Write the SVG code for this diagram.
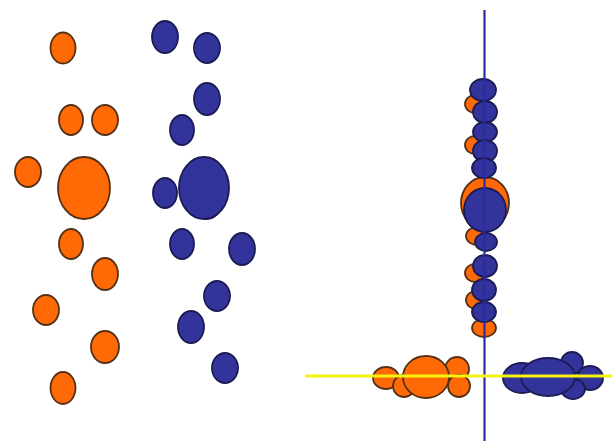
<svg xmlns="http://www.w3.org/2000/svg" width="612" height="441" viewBox="0 0 612 441">
<style>
.o{fill:#ff6a06;stroke:#553015;stroke-width:1.8}
.b{fill:#33339c;stroke:#1c1c55;stroke-width:1.8}
.vl{stroke:#2b2ba8;stroke-width:2.2}
.hl{stroke:#f4f40e;stroke-width:3}
</style>
<rect width="612" height="441" fill="#ffffff"/>
<g id="orange-cloud">
<ellipse class="o" cx="63" cy="48" rx="12.5" ry="15.5"/>
<ellipse class="o" cx="71" cy="120" rx="12" ry="15"/>
<ellipse class="o" cx="105" cy="120" rx="13" ry="15"/>
<ellipse class="o" cx="28" cy="172" rx="13" ry="15"/>
<ellipse class="o" cx="84" cy="188" rx="26" ry="31"/>
<ellipse class="o" cx="71" cy="244" rx="12" ry="15"/>
<ellipse class="o" cx="105" cy="274" rx="13" ry="16"/>
<ellipse class="o" cx="46" cy="310" rx="13" ry="15"/>
<ellipse class="o" cx="105" cy="347" rx="14" ry="16"/>
<ellipse class="o" cx="63" cy="388" rx="12.5" ry="16"/>
</g>
<g id="blue-cloud">
<ellipse class="b" cx="165" cy="37" rx="13" ry="16"/>
<ellipse class="b" cx="207" cy="48" rx="13" ry="15"/>
<ellipse class="b" cx="207" cy="99" rx="13" ry="16"/>
<ellipse class="b" cx="182" cy="130" rx="12" ry="15"/>
<ellipse class="b" cx="207" cy="205" rx="13" ry="14"/>
<ellipse class="b" cx="165" cy="193" rx="12" ry="15"/>
<ellipse class="b" cx="204" cy="188" rx="25" ry="31"/>
<ellipse class="b" cx="182" cy="244" rx="12" ry="15"/>
<ellipse class="b" cx="242" cy="249" rx="13" ry="16"/>
<ellipse class="b" cx="217" cy="296" rx="13" ry="15"/>
<ellipse class="b" cx="191" cy="327" rx="13" ry="16"/>
<ellipse class="b" cx="225" cy="368" rx="13" ry="15"/>
</g>
<g id="vertical-projection">
<ellipse class="o" cx="484" cy="328" rx="12" ry="9"/>
<ellipse class="o" cx="475" cy="104" rx="10" ry="9"/>
<ellipse class="o" cx="475" cy="145" rx="10" ry="9"/>
<ellipse class="o" cx="477" cy="236" rx="11" ry="9"/>
<ellipse class="o" cx="475" cy="273" rx="10" ry="9"/>
<ellipse class="o" cx="476" cy="300" rx="10" ry="9"/>
<ellipse class="o" cx="485" cy="203" rx="24" ry="26"/>
<ellipse class="b" cx="483" cy="90" rx="13" ry="11"/>
<ellipse class="b" cx="485" cy="112" rx="12" ry="11"/>
<ellipse class="b" cx="485" cy="132" rx="12" ry="10"/>
<ellipse class="b" cx="485" cy="151" rx="12" ry="11"/>
<ellipse class="b" cx="484" cy="168" rx="12" ry="10"/>
<ellipse class="b" cx="485" cy="210" rx="21" ry="22"/>
<ellipse class="b" cx="486" cy="242" rx="11" ry="9"/>
<ellipse class="b" cx="485" cy="266" rx="12" ry="11"/>
<ellipse class="b" cx="484" cy="290" rx="12" ry="11"/>
<ellipse class="b" cx="484" cy="312" rx="12" ry="10"/>
</g>
<g id="horizontal-projection">
<ellipse class="o" cx="386" cy="378" rx="13" ry="11"/>
<ellipse class="o" cx="404" cy="386" rx="11" ry="11"/>
<ellipse class="o" cx="457" cy="369" rx="12" ry="12"/>
<ellipse class="o" cx="459" cy="386" rx="11" ry="11"/>
<ellipse class="o" cx="426" cy="377" rx="23" ry="21"/>
<ellipse class="b" cx="522" cy="378" rx="19" ry="15"/>
<ellipse class="b" cx="590" cy="378" rx="13" ry="12"/>
<ellipse class="b" cx="572" cy="363" rx="11" ry="11"/>
<ellipse class="b" cx="573" cy="389" rx="12" ry="10"/>
<ellipse class="b" cx="548" cy="377" rx="27" ry="19"/>
</g>
<g id="axes">
<line class="vl" x1="484.5" y1="10" x2="484.5" y2="441"/>
<line class="hl" x1="305" y1="376" x2="612" y2="376"/>
</g>
</svg>
